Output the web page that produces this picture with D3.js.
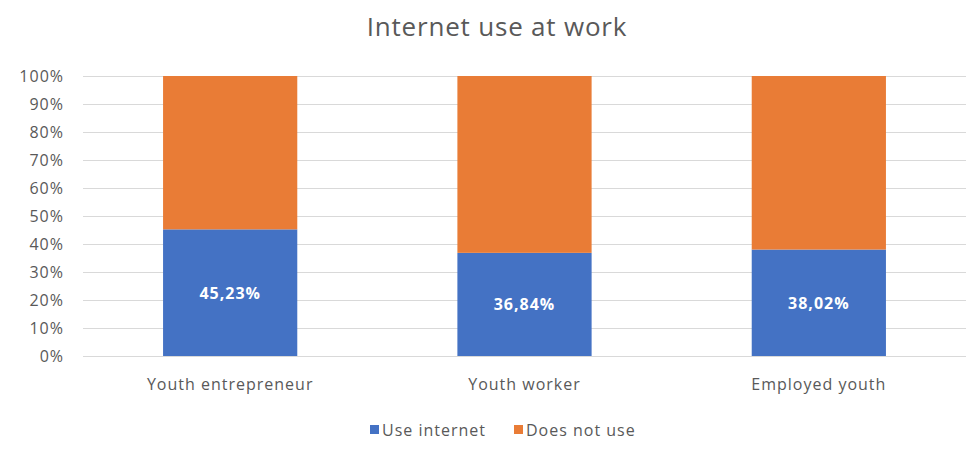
<!DOCTYPE html>
<html><head><meta charset="utf-8">
<script src="https://cdn.jsdelivr.net/npm/d3@7"></script>
<style>body{margin:0;background:#fff}svg{display:block;font-family:"Open Sans","Noto Sans",sans-serif}</style>
</head><body>
<svg id="c" width="971" height="456"></svg>
<script>
const categories = ["Youth entrepreneur", "Youth worker", "Employed youth"];
const useInternet = [45.23, 36.84, 38.02];
const doesNotUse = [54.77, 63.16, 61.98];
const seriesNames = ["Use internet", "Does not use"];
const colors = ["#4472C4", "#E97C36"];
const yTicks = [0,10,20,30,40,50,60,70,80,90,100];

const svg = d3.select("#c");
const m = {l:83, r:5, t:76, b:100};
const W = 971, H = 456;
const x = d3.scaleBand().domain(categories).range([m.l, W-m.r]).paddingInner(0.544).paddingOuter(0.272);
const y = d3.scaleLinear().domain([0,100]).range([356, 76]);

svg.append("text").attr("x", 497).attr("y", 36).attr("text-anchor","middle")
  .attr("font-size", 26).attr("letter-spacing", 0.8).attr("fill","#595959").text("Internet use at work");

const gy = svg.append("g").attr("transform",`translate(${m.l},0)`)
  .call(d3.axisLeft(y).tickValues(yTicks).tickFormat(d=>d+"%").tickSize(-(W-m.r-m.l)).tickPadding(19));
gy.select(".domain").remove();
gy.selectAll(".tick line").attr("stroke","#d9d9d9");
gy.selectAll(".tick text").attr("fill","#595959").attr("font-size",16).attr("letter-spacing",1)
  .attr("font-family",'"Open Sans","Noto Sans",sans-serif');

const stack = d3.stack().keys([0,1])(categories.map((c,i)=>({0:useInternet[i],1:doesNotUse[i], cat:c})));
stack.forEach((s,k)=>{
  svg.append("g").selectAll("rect").data(s).join("rect")
    .attr("x", d=>x(d.data.cat)).attr("width", x.bandwidth())
    .attr("y", d=>y(d[1])).attr("height", d=>y(d[0])-y(d[1]))
    .attr("fill", colors[k]);
});

svg.append("g").selectAll("text").data(categories).join("text")
  .attr("x", c=>x(c)+x.bandwidth()/2).attr("y", (c,i)=>(y(0)+y(useInternet[i]))/2+6)
  .attr("text-anchor","middle").attr("fill","#fff").attr("font-weight","bold").attr("font-size",16)
  .attr("letter-spacing",1)
  .text((c,i)=>useInternet[i].toFixed(2).replace(".",",")+"%");

const gx = svg.append("g").attr("transform",`translate(0,356)`)
  .call(d3.axisBottom(x).tickSize(0).tickPadding(23));
gx.select(".domain").remove();
gx.selectAll(".tick text").attr("fill","#595959").attr("font-size",16).attr("letter-spacing",1)
  .attr("font-family",'"Open Sans","Noto Sans",sans-serif');

const leg = svg.append("g");
const legX = [370, 514];
seriesNames.forEach((n,i)=>{
  leg.append("rect").attr("x", legX[i]).attr("y", 425).attr("width",9).attr("height",9).attr("fill",colors[i]);
  leg.append("text").attr("x", legX[i]+12).attr("y", 436).attr("font-size",16).attr("letter-spacing",1)
    .attr("fill","#595959").text(n);
});
</script>
</body></html>
